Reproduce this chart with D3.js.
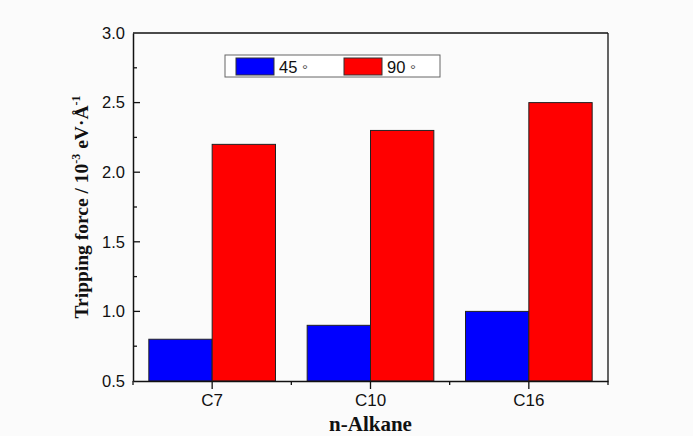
<!DOCTYPE html>
<html>
<head>
<meta charset="utf-8">
<script src="https://cdn.jsdelivr.net/npm/d3@7"></script>
<style>
  html, body { margin: 0; padding: 0; background: #fbfbfb; }
  svg { display: block; }
</style>
</head>
<body>
<div id="chart"></div>
<script>
// chart data
const categories = ["C7", "C10", "C16"];
const series = ["45", "90"];
const values45 = [0.8, 0.9, 1.0];
const values90 = [2.2, 2.3, 2.5];
const yTicks = [0.5, 1.0, 1.5, 2.0, 2.5, 3.0];
const yMinorTicks = [0.75, 1.25, 1.75, 2.25, 2.75];
const colors = ["#0000ff", "#ff0000"];

const width = 693, height = 436;
const margin = { top: 33, right: 85, bottom: 55, left: 133 };
const plotW = width - margin.left - margin.right;
const plotH = height - margin.top - margin.bottom;

const svg = d3.select("#chart").append("svg")
    .attr("width", width)
    .attr("height", height);

svg.append("rect")
    .attr("width", width).attr("height", height)
    .attr("fill", "#fbfbfb");

const g = svg.append("g")
    .attr("transform", `translate(${margin.left},${margin.top})`);

// scales
const x = d3.scaleBand()
    .domain(categories)
    .range([0, plotW])
    .paddingInner(0.2)
    .paddingOuter(0.1);

const xSub = d3.scaleBand()
    .domain(series)
    .range([0, x.bandwidth()]);

const y = d3.scaleLinear()
    .domain([0.5, 3.0])
    .range([plotH, 0]);

const rows = categories.map((c, i) => ({ cat: c, vals: [values45[i], values90[i]] }));

// bars
const groups = g.selectAll(".grp")
    .data(rows)
    .enter().append("g")
    .attr("class", "grp")
    .attr("transform", d => `translate(${x(d.cat)},0)`);

groups.selectAll("rect")
    .data(d => d.vals.map((v, j) => ({ s: series[j], v: v, j: j })))
    .enter().append("rect")
    .attr("x", d => xSub(d.s))
    .attr("y", d => y(d.v))
    .attr("width", xSub.bandwidth())
    .attr("height", d => y(0.5) - y(d.v))
    .attr("fill", d => colors[d.j])
    .attr("stroke", "#222")
    .attr("stroke-width", 1);

// frame (top and right)
g.append("line")
    .attr("x1", 0).attr("x2", plotW).attr("y1", 0).attr("y2", 0)
    .attr("stroke", "#111").attr("stroke-width", 1.3);
g.append("line")
    .attr("x1", plotW).attr("x2", plotW).attr("y1", 0).attr("y2", plotH)
    .attr("stroke", "#111").attr("stroke-width", 1.3);

// y axis, ticks inward
const yAxis = g.append("g")
    .call(d3.axisLeft(y).tickValues(yTicks).tickSize(0).tickPadding(8)
        .tickFormat(d3.format(".1f")));
yAxis.select(".domain").attr("stroke", "#111").attr("stroke-width", 1.5);
yAxis.selectAll("text")
    .attr("font-family", "Liberation Sans, Arial, sans-serif")
    .attr("font-size", 16.5)
    .attr("fill", "#111");

g.selectAll(".ymaj")
    .data(yTicks.slice(1, -1))
    .enter().append("line")
    .attr("x1", 0).attr("x2", 7)
    .attr("y1", d => y(d)).attr("y2", d => y(d))
    .attr("stroke", "#111").attr("stroke-width", 1.3);
g.selectAll(".ymin")
    .data(yMinorTicks)
    .enter().append("line")
    .attr("x1", 0).attr("x2", 4)
    .attr("y1", d => y(d)).attr("y2", d => y(d))
    .attr("stroke", "#111").attr("stroke-width", 1.3);

// x axis, ticks outward
const xAxis = g.append("g")
    .attr("transform", `translate(0,${plotH})`)
    .call(d3.axisBottom(x).tickSize(8).tickPadding(5).tickSizeOuter(0));
xAxis.select(".domain").attr("stroke", "#111").attr("stroke-width", 1.5);
xAxis.selectAll(".tick line").attr("stroke", "#111").attr("stroke-width", 1.3);
xAxis.selectAll("text")
    .attr("font-family", "Liberation Sans, Arial, sans-serif")
    .attr("font-size", 17)
    .attr("fill", "#111");

// minor x ticks between categories
const xEdges = [0].concat(categories.map(c => x(c) + x.bandwidth() + x.step() * x.paddingInner() / 2));
xEdges[xEdges.length - 1] = plotW;
xAxis.selectAll(".xmin")
    .data(xEdges)
    .enter().append("line")
    .attr("x1", d => d).attr("x2", d => d)
    .attr("y1", 0).attr("y2", 4)
    .attr("stroke", "#111").attr("stroke-width", 1.3);

// axis titles
svg.append("text")
    .attr("x", margin.left + plotW / 2)
    .attr("y", 431)
    .attr("text-anchor", "middle")
    .attr("font-family", "Liberation Serif, Times New Roman, serif")
    .attr("font-weight", "bold")
    .attr("font-size", 21)
    .attr("fill", "#111")
    .text("n-Alkane");

const yTitle = svg.append("text")
    .attr("transform", `translate(88,${margin.top + plotH / 2}) rotate(-90)`)
    .attr("text-anchor", "middle")
    .attr("font-family", "Liberation Serif, Times New Roman, serif")
    .attr("font-weight", "bold")
    .attr("font-size", 19.5)
    .attr("fill", "#111");
yTitle.append("tspan").text("Tripping force / 10");
yTitle.append("tspan").attr("dy", -8).attr("font-size", 12).text("-3");
yTitle.append("tspan").attr("dy", 8).text(" eV\u00b7\u00c5");
yTitle.append("tspan").attr("dy", -8).attr("font-size", 12).text("-1");

// legend
const legend = svg.append("g");
legend.append("rect")
    .attr("x", 225).attr("y", 55)
    .attr("width", 215).attr("height", 22)
    .attr("fill", "#ffffff")
    .attr("stroke", "#666").attr("stroke-width", 1);

const legX = [236, 344];
series.forEach((s, i) => {
    legend.append("rect")
        .attr("x", legX[i]).attr("y", 58)
        .attr("width", 38).attr("height", 17)
        .attr("fill", colors[i])
        .attr("stroke", "#333").attr("stroke-width", 1);
    const t = legend.append("text")
        .attr("x", legX[i] + 43).attr("y", 72.5)
        .attr("font-family", "Liberation Sans, Arial, sans-serif")
        .attr("font-size", 16.5)
        .attr("fill", "#111");
    t.append("tspan").text(s + " ");
    t.append("tspan").attr("dy", 2.5).attr("font-size", 15).attr("fill", "#555").text("\u00b0");
});
</script>
</body>
</html>
